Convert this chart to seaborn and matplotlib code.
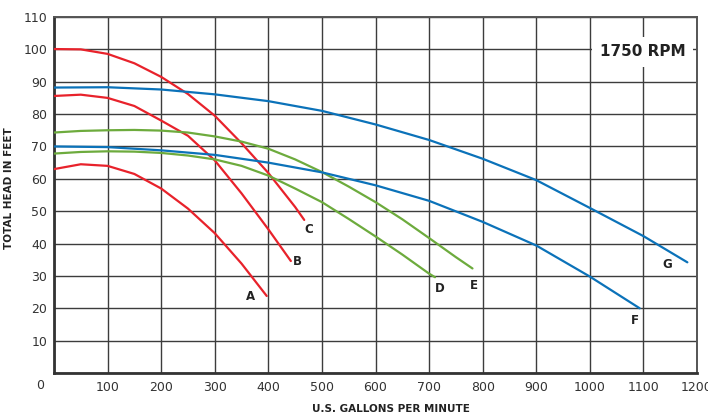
import numpy as np
import pandas as pd
import matplotlib
matplotlib.use("Agg")
import matplotlib.pyplot as plt
import seaborn as sns

# Pump curves at 1750 RPM (gpm -> feet of head)
curve_a_gpm = [0, 50, 100, 150, 200, 250, 300, 350, 397]
curve_a_head = [63.0, 64.5, 64.0, 61.5, 57.0, 50.8, 43.2, 33.8, 23.8]

curve_b_gpm = [0, 50, 100, 150, 200, 250, 300, 350, 400, 442]
curve_b_head = [85.6, 86.0, 85.0, 82.5, 78.0, 73.3, 65.7, 55.5, 44.4, 34.6]

curve_c_gpm = [0, 50, 100, 150, 200, 250, 300, 350, 400, 450, 467]
curve_c_head = [100.1, 100.0, 98.6, 95.7, 91.5, 86.2, 79.5, 71.0, 61.8, 51.3, 47.3]

curve_d_gpm = [0, 50, 100, 150, 200, 250, 300, 350, 400, 450, 500, 550, 600, 650, 700, 711]
curve_d_head = [67.8, 68.3, 68.5, 68.4, 68.0, 67.2, 66.0, 64.0, 61.0, 57.0, 52.8,
                47.6, 42.2, 36.6, 30.7, 29.6]

curve_e_gpm = [0, 50, 100, 150, 200, 250, 300, 350, 400, 450, 500, 550, 600, 650, 700, 750, 781]
curve_e_head = [74.3, 74.8, 75.0, 75.1, 74.9, 74.3, 73.1, 71.5, 69.3, 66.0, 62.1,
                57.6, 52.8, 47.5, 41.7, 35.8, 32.3]

curve_f_gpm = [0, 100, 200, 300, 400, 500, 600, 700, 800, 900, 1000, 1093]
curve_f_head = [70.0, 69.8, 68.8, 67.4, 65.0, 62.0, 58.0, 53.2, 46.7, 39.4, 29.8, 20.0]

curve_g_gpm = [0, 100, 200, 300, 400, 500, 600, 700, 800, 900, 1000, 1100, 1182]
curve_g_head = [88.2, 88.3, 87.6, 86.1, 84.0, 81.0, 76.8, 72.0, 66.2, 59.6, 51.0, 42.3, 34.2]

curve_names = ["A", "B", "C", "D", "E", "F", "G"]

# where each curve letter sits (gpm, head)
label_pos = {
    "A": (367, 23.5), "B": (455, 34.3), "C": (476, 44.3), "D": (720, 26.1),
    "E": (784, 26.9), "F": (1084, 16.1), "G": (1144, 33.5),
}

RED = "#e8222b"
GREEN = "#6dab3d"
BLUE = "#0b72b9"
palette = {"A": RED, "B": RED, "C": RED, "D": GREEN, "E": GREEN, "F": BLUE, "G": BLUE}

frames = []
for name, g, h in zip(curve_names,
                      [curve_a_gpm, curve_b_gpm, curve_c_gpm, curve_d_gpm,
                       curve_e_gpm, curve_f_gpm, curve_g_gpm],
                      [curve_a_head, curve_b_head, curve_c_head, curve_d_head,
                       curve_e_head, curve_f_head, curve_g_head]):
    frames.append(pd.DataFrame({"gpm": g, "head": h, "curve": name}))
df = pd.concat(frames, ignore_index=True)

sns.set_theme(style="white")
plt.rcParams["font.family"] = ["DejaVu Sans"]

fig = plt.figure(figsize=(7.08, 4.17), dpi=100)
ax = fig.add_axes([54 / 708, 1 - 373 / 417, 643 / 708, 356 / 417])

sns.lineplot(data=df, x="gpm", y="head", hue="curve", units="curve",
             estimator=None, sort=False, palette=palette, linewidth=1.6,
             legend=False, ax=ax, zorder=3)

ax.set_xlim(0, 1200)
ax.set_ylim(0, 110)
ax.set_xticks(np.arange(0, 1201, 100))
ax.set_yticks(np.arange(0, 111, 10))
ax.set_xticklabels([""] + [str(v) for v in range(100, 1201, 100)])
ax.set_yticklabels([""] + [str(v) for v in range(10, 111, 10)])
ax.tick_params(axis="both", length=0, labelsize=9, labelcolor="#333333")
ax.tick_params(axis="x", pad=6)
ax.tick_params(axis="y", pad=5)

ax.grid(True, color="#3c3c3c", linewidth=1.0)
ax.set_axisbelow(True)

for side in ["left", "bottom"]:
    ax.spines[side].set_color("#333333")
    ax.spines[side].set_linewidth(2.0)
for side in ["top", "right"]:
    ax.spines[side].set_color("#555555")
    ax.spines[side].set_linewidth(1.4)

# shared origin label
ax.text(-0.022, -0.034, "0", transform=ax.transAxes, ha="center", va="center",
        fontsize=9, color="#333333")

ax.set_xlabel("U.S. GALLONS PER MINUTE", fontsize=7.5, fontweight="bold", color="#222222")
ax.set_ylabel("TOTAL HEAD IN FEET", fontsize=7.5, fontweight="bold", color="#222222")
ax.xaxis.set_label_coords(0.524, -0.088)
ax.yaxis.set_label_coords(-0.062, 0.52)

for name in curve_names:
    x, y = label_pos[name]
    ax.text(x, y, name, ha="center", va="center", fontsize=8.5,
            fontweight="bold", color="#222222", zorder=4)

ax.text(0.915, 0.902, "1750 RPM", transform=ax.transAxes, ha="center", va="center",
        fontsize=11, fontweight="bold", color="#222222", zorder=5,
        bbox=dict(boxstyle="square,pad=0.5", facecolor="white", edgecolor="none"))

fig.savefig("out.png", dpi=100, facecolor="white")
